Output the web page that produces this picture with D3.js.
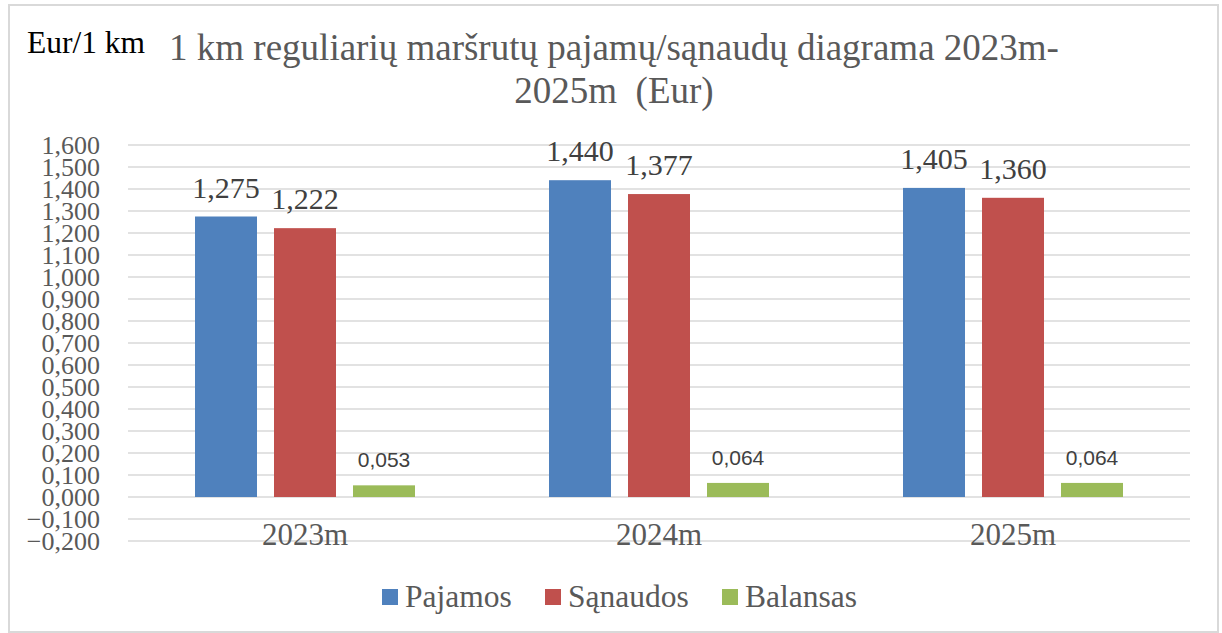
<!DOCTYPE html>
<html>
<head>
<meta charset="utf-8">
<script src="https://cdn.jsdelivr.net/npm/d3@7/dist/d3.min.js"></script>
<style>
  body { margin: 0; background: #fff; }
  svg { display: block; }
</style>
</head>
<body>
<svg id="chart" width="1222" height="633"></svg>
<script>
// data
var categories = ['2023m', '2024m', '2025m'];
var series = ['Pajamos', 'Sąnaudos', 'Balansas'];
var pajamos = [1.275, 1.440, 1.405];
var sanaudos = [1.222, 1.377, 1.360];
var balansas = [0.053, 0.064, 0.064];
var yTicks = [-0.2, -0.1, 0, 0.1, 0.2, 0.3, 0.4, 0.5, 0.6, 0.7, 0.8, 0.9, 1.0, 1.1, 1.2, 1.3, 1.4, 1.5, 1.6];
var colors = ['#4f81bd', '#c0504d', '#9bbb59'];

var values = [pajamos, sanaudos, balansas];
var fmt = function(v) { return d3.format('.3f')(v).replace('.', ','); };
var SERIF = '"Liberation Serif", "DejaVu Serif", serif';
var SANS = '"Liberation Sans", Arial, sans-serif';

var svg = d3.select('#chart');

// outer frame
svg.append('rect').attr('x', 9).attr('y', 5).attr('width', 1209).attr('height', 627)
  .style('fill', 'none').style('stroke', '#d9d9d9').style('stroke-width', 2);

var left = 128, right = 1190;
var y = d3.scaleLinear().domain([-0.2, 1.6]).range([541, 145]);
var x0 = d3.scaleBand().domain(categories).range([left, right]);
var groupW = 220;
var x1 = d3.scaleBand().domain(series)
  .range([(x0.bandwidth() - groupW) / 2, (x0.bandwidth() + groupW) / 2])
  .paddingInner(17 / 79);

// gridlines
svg.append('g').selectAll('line').data(yTicks).enter().append('line')
  .attr('x1', left).attr('x2', right)
  .attr('y1', function(d) { return y(d); }).attr('y2', function(d) { return y(d); })
  .style('stroke', '#d9d9d9').style('stroke-width', 1.5);

// y tick labels (crowded like the original)
svg.append('g').selectAll('text').data(yTicks).enter().append('text')
  .attr('x', 100).attr('y', function(d) { return y(d) + 9; })
  .attr('text-anchor', 'end')
  .style('font-family', SERIF)
  .style('font-size', '26px').style('fill', '#595959')
  .text(function(d) { return fmt(d); });

// bars
var groups = svg.append('g').selectAll('g').data(categories).enter().append('g')
  .attr('transform', function(c) { return 'translate(' + x0(c) + ',0)'; });

groups.each(function(c, ci) {
  var g = d3.select(this);
  series.forEach(function(s, si) {
    var v = values[si][ci];
    g.append('rect')
      .attr('x', x1(s)).attr('width', x1.bandwidth())
      .attr('y', y(v)).attr('height', y(0) - y(v))
      .style('fill', colors[si]);
    var lbl = g.append('text')
      .attr('x', x1(s) + x1.bandwidth() / 2)
      .attr('text-anchor', 'middle')
      .style('fill', '#404040')
      .text(fmt(v));
    if (si < 2) {
      lbl.attr('y', y(v) - 19).style('font-size', '30px').style('font-family', SERIF);
    } else {
      lbl.attr('y', y(v) - 18).style('font-size', '21px').style('font-family', SANS);
    }
  });
});

// category labels
svg.append('g').selectAll('text').data(categories).enter().append('text')
  .attr('x', function(c) { return x0(c) + x0.bandwidth() / 2; })
  .attr('y', 545)
  .attr('text-anchor', 'middle')
  .style('font-family', SERIF)
  .style('font-size', '31px').style('fill', '#595959')
  .text(function(c) { return c; });

// title
svg.append('text').attr('x', 27).attr('y', 53)
  .style('font-family', SERIF)
  .style('font-size', '31.5px').style('fill', '#000')
  .text('Eur/1 km');
var title = svg.append('text').attr('text-anchor', 'middle')
  .style('font-family', SERIF)
  .style('font-size', '37px').style('fill', '#595959');
title.append('tspan').attr('x', 614).attr('y', 60)
  .text('1 km reguliarių maršrutų pajamų/sąnaudų diagrama 2023m-');
title.append('tspan').attr('x', 614).attr('y', 103)
  .style('white-space', 'pre')
  .text('2025m  (Eur)');

// legend
var legendX = [382, 545, 722];
var leg = svg.append('g').selectAll('g').data(series).enter().append('g')
  .attr('transform', function(d, i) { return 'translate(' + legendX[i] + ',589)'; });
leg.append('rect').attr('width', 16).attr('height', 16)
  .style('fill', function(d, i) { return colors[i]; });
leg.append('text').attr('x', 23).attr('y', 18)
  .style('font-family', SERIF)
  .style('font-size', '31.5px').style('fill', '#595959')
  .text(function(d) { return d; });
</script>
</body>
</html>
